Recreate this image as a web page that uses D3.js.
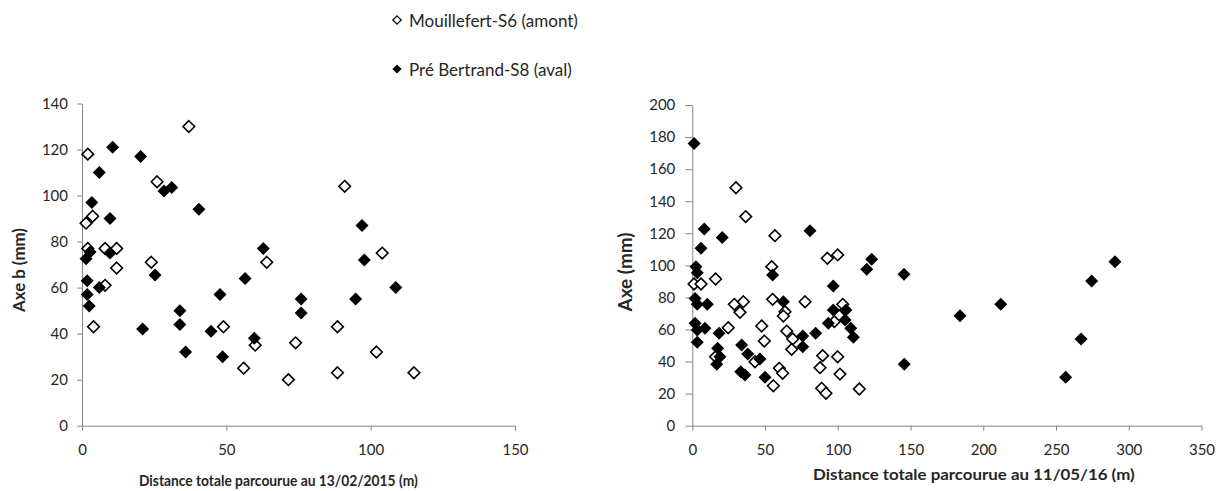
<!DOCTYPE html>
<html>
<head>
<meta charset="utf-8">
<script src="https://cdn.jsdelivr.net/npm/d3@7"></script>
<style>
  html, body { margin: 0; padding: 0; background: #fff; }
  svg { display: block; }
  text { font-family: Lato, "Open Sans", sans-serif; fill: #262626; }
</style>
</head>
<body>
<svg id="chart" width="1216" height="491"></svg>
<script>
// ---------- DATA ----------
const seriesNames = ["Mouillefert-S6 (amont)", "Pré Bertrand-S8 (aval)"];

// Chart 1: distance au 13/02/2015
const leftXTicks = [0, 50, 100, 150];
const leftYTicks = [0, 20, 40, 60, 80, 100, 120, 140];
const s6_2015_x = [2, 37, 26, 1.4, 3.7, 2, 8, 12, 24, 12, 64, 8, 4, 49, 56, 60, 91, 104, 88.5, 74, 102, 71.5, 88.5, 115];
const s6_2015_y = [118, 130, 106, 88, 91, 77, 77, 77, 71, 68.5, 71, 61, 43, 43, 25, 35, 104, 75, 43, 36, 32, 20, 23, 23];
const s8_2015_x = [10.6, 20.3, 6, 28.4, 31.1, 3.4, 40.5, 9.7, 62.8, 1.4, 2.8, 9.7, 1.8, 1.8, 2.5, 6, 25.3, 21, 33.9, 33.9, 35.9, 47.8, 44.7, 48.7, 56.5, 59.7, 97, 97.8, 108.7, 94.8, 75.9, 75.9];
const s8_2015_y = [121, 117, 110, 102, 103.5, 97, 94, 90, 77, 72.5, 75.5, 75, 63, 57, 52, 60, 65.5, 42, 50, 44, 32, 57, 41, 30, 64, 38, 87, 72, 60, 55, 55, 49];

// Chart 2: distance au 11/05/16
const rightXTicks = [0, 50, 100, 150, 200, 250, 300, 350];
const rightYTicks = [0, 20, 40, 60, 80, 100, 120, 140, 160, 180, 200];
const s6_2016_x = [30, 36.7, 56.8, 54.6, 1.2, 6, 16, 28.9, 35.1, 32.8, 55.2, 63.7, 62.6, 77.5, 24.7, 47.7, 49.5, 64.9, 69, 68.3, 16, 43.1, 55.7, 59.8, 62.1, 92.8, 99.9, 103.4, 101, 97.6, 89.6, 99.9, 87.8, 101.5, 88.9, 91.9, 114.8];
const s6_2016_y = [148.4, 130.4, 118.5, 99.2, 88.4, 88.4, 91.5, 75.7, 77.3, 70.7, 78.8, 71.1, 68.4, 77.3, 61.1, 62.2, 52.8, 59, 54.1, 47.6, 43, 39.9, 24.9, 35.8, 32.7, 104.4, 106.5, 75.7, 68.6, 64.9, 43.7, 43, 36.2, 32.2, 23.3, 20.2, 22.9];
const s8_2016_x = [1.2, 8.2, 6, 20.6, 80.9, 2.5, 3.4, 55.2, 1.9, 3.4, 10.3, 62.6, 1.9, 3.4, 8.7, 3.4, 18.4, 75.9, 75.9, 84.8, 17.4, 19, 16.8, 33.9, 38.1, 36.2, 33.3, 46.5, 50, 123.3, 119.9, 145.5, 96.9, 96.9, 105.6, 93.5, 105, 108.9, 110.7, 145.7, 184, 212, 290.5, 274.5, 267.2, 256.6];
const s8_2016_y = [176, 122.7, 110.6, 117.3, 121.5, 99.2, 95.4, 94, 79.4, 75.7, 75.7, 77.3, 63.9, 59.7, 60.7, 52, 57.6, 55.9, 49.3, 57.6, 48.3, 43, 38.3, 50.3, 44.7, 31.6, 33.7, 41.6, 30.2, 103.8, 97.5, 94.4, 87.1, 72.2, 72.2, 63.9, 65.9, 60.7, 55.1, 38.3, 68.6, 75.7, 102.3, 90.2, 54.1, 30.2];

const leftXTitle = "Distance totale parcourue au 13/02/2015 (m)";
const leftYTitle = "Axe b (mm)";
const rightXTitle = "Distance totale parcourue au 11/05/16 (m)";
const rightYTitle = "Axe (mm)";

// ---------- DRAWING ----------
const svg = d3.select("#chart");
const AXIS = "#868686";

function zip(xs, ys) { return xs.map((x, i) => ({ x, y: ys[i] })); }
function diamond(r) { return `M0,${-r}L${r},0L0,${r}L${-r},0Z`; }

function fitText(sel, targetWidth, startSize) {
  sel.style("font-size", startSize + "px");
  const len = sel.node().getComputedTextLength();
  sel.style("font-size", (startSize * targetWidth / len).toFixed(2) + "px");
}

function styleAxis(g) {
  g.select(".domain").attr("stroke", AXIS).attr("stroke-width", 1);
  g.selectAll(".tick line").attr("stroke", AXIS);
  g.selectAll(".tick text").style("font-size", "15px").style("font-family", "Lato, sans-serif").attr("fill", "#262626");
}

function drawChart(cfg) {
  const x = d3.scaleLinear().domain(cfg.xDomain).range(cfg.xRange);
  const y = d3.scaleLinear().domain(cfg.yDomain).range(cfg.yRange);
  const g = svg.append("g");

  g.append("g")
    .attr("transform", `translate(0,${cfg.yRange[0]})`)
    .call(d3.axisBottom(x).tickValues(cfg.xTicks).tickSize(5).tickSizeOuter(0).tickPadding(14))
    .call(styleAxis);

  g.append("g")
    .attr("transform", `translate(${cfg.xRange[0]},0)`)
    .call(d3.axisLeft(y).tickValues(cfg.yTicks).tickSize(cfg.yTickSize).tickSizeOuter(0).tickPadding(cfg.yPad))
    .call(styleAxis);

  // open diamonds (S6)
  g.append("g").selectAll("path")
    .data(zip(cfg.s6x, cfg.s6y)).join("path")
    .attr("d", diamond(5.8))
    .attr("transform", d => `translate(${x(d.x)},${y(d.y)})`)
    .attr("fill", "#fff").attr("stroke", "#000").attr("stroke-width", 1.6);

  // filled diamonds (S8)
  g.append("g").selectAll("path")
    .data(zip(cfg.s8x, cfg.s8y)).join("path")
    .attr("d", diamond(6.5))
    .attr("transform", d => `translate(${x(d.x)},${y(d.y)})`)
    .attr("fill", "#000");

  // x title: fixed size, horizontally scaled to its measured width
  const xt = g.append("text")
    .attr("x", 0).attr("y", 0)
    .attr("text-anchor", "start").style("font-weight", "bold")
    .style("font-size", cfg.xTitleSize + "px")
    .text(cfg.xTitle);
  const natural = xt.node().getComputedTextLength();
  xt.attr("transform", `translate(${cfg.xTitlePos[0]},${cfg.xTitlePos[1]}) scale(${cfg.xTitleWidth / natural},1)`);

  const yt = g.append("text")
    .attr("transform", `translate(${cfg.yTitlePos[0]},${cfg.yTitlePos[1]}) rotate(-90)`)
    .attr("text-anchor", "middle").style("font-weight", "bold")
    .text(cfg.yTitle);
  fitText(yt, cfg.yTitleWidth, 15);
}

drawChart({
  xDomain: [0, 150], xRange: [82, 515],
  yDomain: [0, 140], yRange: [425.7, 103.5],
  xTicks: leftXTicks, yTicks: leftYTicks, yTickSize: 5, yPad: 9,
  s6x: s6_2015_x, s6y: s6_2015_y, s8x: s8_2015_x, s8y: s8_2015_y,
  xTitle: leftXTitle, xTitlePos: [139, 486], xTitleWidth: 279, xTitleSize: 15.5,
  yTitle: leftYTitle, yTitlePos: [25, 270], yTitleWidth: 84
});

drawChart({
  xDomain: [0, 350], xRange: [692.3, 1201.5],
  yDomain: [0, 200], yRange: [425.7, 105],
  xTicks: rightXTicks, yTicks: rightYTicks, yTickSize: 7, yPad: 10,
  s6x: s6_2016_x, s6y: s6_2016_y, s8x: s8_2016_x, s8y: s8_2016_y,
  xTitle: rightXTitle, xTitlePos: [813, 480], xTitleWidth: 322, xTitleSize: 15.5,
  yTitle: rightYTitle, yTitlePos: [632, 272], yTitleWidth: 79
});

// Legend
const legend = svg.append("g");
const legendItems = [
  { name: seriesNames[0], filled: false, cy: 20, base: 26.5, w: 169 },
  { name: seriesNames[1], filled: true, cy: 69, base: 75.5, w: 163 }
];
legendItems.forEach(it => {
  legend.append("path")
    .attr("d", diamond(it.filled ? 4.6 : 4.2))
    .attr("transform", `translate(397,${it.cy})`)
    .attr("fill", it.filled ? "#000" : "#fff")
    .attr("stroke", it.filled ? "none" : "#000")
    .attr("stroke-width", 1.2);
  const t = legend.append("text").attr("x", 409).attr("y", it.base).text(it.name);
  fitText(t, it.w, 17);
});
</script>
</body>
</html>
